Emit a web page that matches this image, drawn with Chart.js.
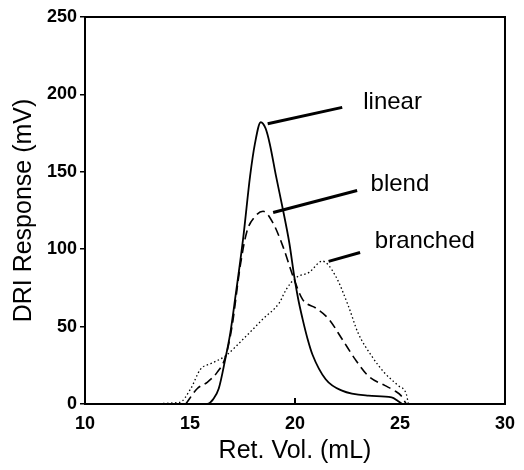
<!DOCTYPE html>
<html>
<head>
<meta charset="utf-8">
<script src="https://cdn.jsdelivr.net/npm/chart.js@4/dist/chart.umd.min.js"></script>
<style>
  html, body { margin: 0; padding: 0; background: #fff; }
  #wrap { width: 524px; height: 470px; }
</style>
</head>
<body>
<div id="wrap"><canvas id="dri"></canvas></div>
<script>
// values
const linearX = [12, 15.5, 15.82, 16.1, 16.37, 16.68, 16.92, 17.15, 17.54, 17.86, 18.09, 18.37, 18.6, 18.8, 19.1, 19.42, 19.73, 19.97, 20.15, 20.36, 20.6, 20.83, 21.46, 22.24, 23.5, 24.6, 24.9, 25.1];
const linearY = [0, 0, 0, 3, 10, 29, 46, 68, 108, 147, 168, 182, 178, 168, 147, 126, 104, 82, 68, 55, 42, 32, 16, 8.6, 5.4, 4.3, 2, 0];

const blendX = [14.8, 15.35, 15.82, 16.3, 16.68, 17.0, 17.39, 17.7, 18.09, 18.48, 18.95, 19.42, 19.9, 20.36, 20.99, 21.6, 22.24, 22.86, 23.5, 24.27, 24.74, 25.05, 25.3];
const blendY = [0, 10, 14, 20.6, 30, 50, 89, 111, 121, 124.5, 117, 102, 82.7, 67.6, 62, 55, 42, 29, 18, 12, 8.6, 5.4, 0];

const branchedX = [12, 14.5, 15.04, 15.5, 15.98, 16.68, 17.54, 18.48, 19.26, 19.58, 20.05, 20.67, 21.3, 21.92, 22.55, 23.0, 23.65, 24.27, 24.9, 25.3, 25.4];
const branchedY = [0, 1, 10, 22.5, 26, 31, 42, 55, 65.5, 74, 81.6, 85, 92.3, 83, 63, 46, 31, 20, 12, 6.4, 0];

// labels and their leader lines (start on curve, end near text)
const labelNames = ['linear', 'blend', 'branched'];
const labelX = [23.25, 23.6, 23.8];
const labelY = [195, 141.8, 105];
const leaderX = [[18.7, 22.25], [18.96, 22.96], [21.6, 23.1]];
const leaderY = [[181, 191.6], [123.7, 137.9], [92.1, 97.9]];

const xTicks = [10, 15, 20, 25, 30];
const yTicks = [0, 50, 100, 150, 200, 250];

const pts = (xs, ys) => xs.map((x, i) => ({ x: x, y: ys[i] }));

const curve = (data, dash, width) => ({
  data: data,
  borderColor: '#000',
  borderWidth: width,
  borderDash: dash,
  pointRadius: 0,
  fill: false,
  cubicInterpolationMode: 'monotone'
});

const datasets = [
  curve(pts(linearX, linearY), [], 1.8),
  curve(pts(blendX, blendY), [9, 5], 1.6),
  curve(pts(branchedX, branchedY), [1.5, 2.5], 1.3)
];
leaderX.forEach((xs, i) => {
  datasets.push({
    data: pts(xs, leaderY[i]),
    borderColor: '#000',
    borderWidth: 3,
    pointRadius: 0,
    tension: 0
  });
});

const frame = {
  id: 'frame',
  afterDatasetsDraw(chart) {
    const { ctx, chartArea: a, scales } = chart;
    ctx.save();
    ctx.strokeStyle = '#000';
    ctx.lineWidth = 2;
    ctx.strokeRect(a.left, a.top, a.right - a.left, a.bottom - a.top);
    // inward tick at 20
    const tx = scales.x.getPixelForValue(20);
    ctx.beginPath();
    ctx.moveTo(tx, a.bottom);
    ctx.lineTo(tx, a.bottom - 6);
    ctx.stroke();
    ctx.fillStyle = '#000';
    ctx.font = '24px "Liberation Sans", Arial, sans-serif';
    ctx.textBaseline = 'middle';
    labelNames.forEach((t, i) => {
      ctx.fillText(t, scales.x.getPixelForValue(labelX[i]), scales.y.getPixelForValue(labelY[i]));
    });
    ctx.restore();
  }
};

const font = '"Liberation Sans", Arial, sans-serif';

new Chart(document.getElementById('dri'), {
  type: 'line',
  data: { datasets: datasets },
  options: {
    responsive: true,
    maintainAspectRatio: false,
    animation: false,
    layout: { padding: { top: 17, right: 12, left: 0, bottom: 0 } },
    plugins: { legend: { display: false }, tooltip: { enabled: false } },
    scales: {
      x: {
        type: 'linear',
        min: 10,
        max: 30,
        afterBuildTicks: s => { s.ticks = xTicks.map(v => ({ value: v })); },
        afterFit: s => { s.height = 66; },
        grid: { display: false, drawTicks: false },
        border: { display: false },
        ticks: {
          color: '#000',
          padding: 9,
          font: { family: font, size: 18, weight: 'bold' }
        },
        title: {
          display: true,
          text: 'Ret. Vol. (mL)',
          color: '#000',
          padding: { top: 0, bottom: 4 },
          font: { family: font, size: 25 }
        }
      },
      y: {
        min: 0,
        max: 250,
        afterBuildTicks: s => { s.ticks = yTicks.map(v => ({ value: v })); },
        afterFit: s => { s.width = 85; },
        grid: { drawOnChartArea: false, tickLength: 5, color: '#000', lineWidth: 1.5 },
        border: { display: false },
        ticks: {
          color: '#000',
          padding: 3,
          font: { family: font, size: 18, weight: 'bold' }
        },
        title: {
          display: true,
          text: 'DRI Response (mV)',
          color: '#000',
          padding: { top: 9, bottom: 0 },
          font: { family: font, size: 25 }
        }
      }
    }
  },
  plugins: [frame]
});
</script>
</body>
</html>
